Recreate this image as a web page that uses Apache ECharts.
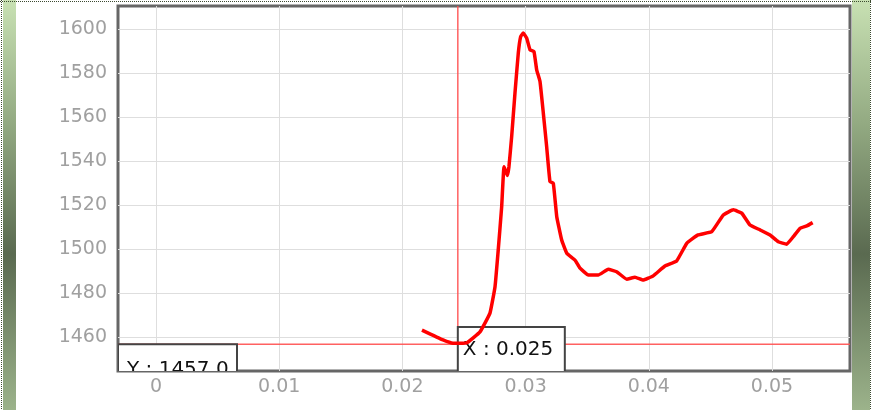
<!DOCTYPE html>
<html>
<head>
<meta charset="utf-8">
<script src="https://cdn.jsdelivr.net/npm/echarts@6/dist/echarts.min.js"></script>
<style>
  html, body { margin: 0; padding: 0; background: #fff; }
  #main { width: 872px; height: 410px; }
</style>
</head>
<body>
<div id="main"></div>
<script>
// time (x) and value (y) of the trace
const xValues = [
  0.02159, 0.02330, 0.02411, 0.02522, 0.02630, 0.02711, 0.02752, 0.02776, 0.02806, 0.02825,
  0.02851, 0.02865, 0.02887, 0.02914, 0.02941, 0.02960, 0.02981, 0.03009, 0.03036, 0.03068,
  0.03090, 0.03117, 0.03144, 0.03171, 0.03198, 0.03225, 0.03253, 0.03293, 0.03334, 0.03401,
  0.03442, 0.03509, 0.03590, 0.03671, 0.03739, 0.03821, 0.03888, 0.03955, 0.04036, 0.04131,
  0.04226, 0.04308, 0.04399, 0.04511, 0.04605, 0.04686, 0.04754, 0.04821, 0.04903, 0.04984,
  0.05051, 0.05119, 0.05173, 0.05227, 0.05282, 0.05330
];
const yValues = [
  1463.4, 1458.9, 1457.4, 1457.6, 1462.6, 1471.1, 1483.1, 1498.4, 1519.5, 1537.6,
  1533.6, 1537.6, 1551.3, 1571.1, 1589.3, 1596.7, 1598.3, 1596.0, 1590.7, 1589.9,
  1581.6, 1576.3, 1561.9, 1546.7, 1530.8, 1530.1, 1514.9, 1504.3, 1498.3, 1495.2,
  1491.5, 1488.4, 1488.4, 1491.0, 1489.9, 1486.5, 1487.4, 1486.1, 1488.0, 1492.5,
  1494.8, 1502.8, 1506.6, 1508.1, 1515.7, 1518.0, 1516.5, 1511.1, 1508.9, 1506.6,
  1503.5, 1502.4, 1505.8, 1509.6, 1510.7, 1512.2
];
const xTicks = [0, 0.01, 0.02, 0.03, 0.04, 0.05];
const yTicks = [1460, 1480, 1500, 1520, 1540, 1560, 1580, 1600];

// cursor readout
const crossX = 0.0245;
const crossY = 1457.0;
const crossXLabel = 'X : 0.025';
const crossYLabel = 'Y : 1457.0';

const FONT = '"DejaVu Sans", Verdana, sans-serif';
const chart = echarts.init(document.getElementById('main'));

function renderCursor(params, api) {
  const p = api.coord([api.value(0), api.value(1)]);
  const cs = params.coordSys;
  const bottom = cs.y + cs.height;
  const lineStyle = { stroke: '#ff5050', lineWidth: 1.5, opacity: 0.9 };
  const boxStyle = { fill: '#fff', stroke: '#444', lineWidth: 2 };
  const textStyle = (t, x, y) => ({
    text: t, x: x, y: y, fill: '#111',
    fontSize: 20, fontFamily: FONT, verticalAlign: 'top'
  });
  const xBoxTop = bottom - 44;
  return {
    type: 'group',
    children: [
      { type: 'line', shape: { x1: cs.x, y1: p[1], x2: cs.x + cs.width, y2: p[1] }, style: lineStyle },
      { type: 'line', shape: { x1: p[0], y1: cs.y, x2: p[0], y2: bottom }, style: lineStyle },
      { type: 'rect', shape: { x: cs.x, y: p[1], width: 119, height: 40 }, style: boxStyle },
      { type: 'text', style: textStyle(crossYLabel, cs.x + 9, p[1] + 16) },
      { type: 'rect', shape: { x: p[0], y: xBoxTop, width: 107, height: 60 }, style: boxStyle },
      { type: 'text', style: textStyle(crossXLabel, p[0] + 5, xBoxTop + 13) }
    ]
  };
}

const stripGradient = new echarts.graphic.LinearGradient(0, 0, 0, 1, [
  { offset: 0, color: '#c8e1b3' },
  { offset: 0.3, color: '#93aa82' },
  { offset: 0.62, color: '#5a6a50' },
  { offset: 1, color: '#9cb38b' }
]);

chart.setOption({
  backgroundColor: '#fff',
  animation: false,
  graphic: [
    { type: 'rect', left: 3, top: 0, shape: { width: 13, height: 410 }, style: { fill: stripGradient } },
    { type: 'rect', left: 852, top: 0, shape: { width: 18, height: 410 }, style: { fill: stripGradient } },
    { type: 'line', shape: { x1: 0, y1: 1.5, x2: 872, y2: 1.5 }, style: { stroke: '#3c4a30', lineWidth: 1, lineDash: [1, 1] } },
    { type: 'line', shape: { x1: 1.5, y1: 0, x2: 1.5, y2: 410 }, style: { stroke: '#3c4a30', lineWidth: 1, lineDash: [1, 1] } },
    { type: 'line', shape: { x1: 870.5, y1: 0, x2: 870.5, y2: 410 }, style: { stroke: '#3c4a30', lineWidth: 1, lineDash: [1, 1] } }
  ],
  grid: {
    left: 118, right: 22, top: 6, bottom: 39,
    show: true, borderColor: '#666', borderWidth: 3,
    backgroundColor: 'transparent'
  },
  xAxis: {
    type: 'value',
    min: -0.00308,
    max: 0.05633,
    axisLine: { show: false },
    axisTick: { show: false, customValues: xTicks },
    axisLabel: {
      customValues: xTicks, color: '#a0a0a0', fontSize: 19, fontFamily: FONT, margin: 7,
      formatter: (v) => String(v)
    },
    splitLine: { show: true, lineStyle: { color: '#dedede', width: 1 } }
  },
  yAxis: {
    type: 'value',
    min: 1444.8,
    max: 1610.6,
    axisLine: { show: false },
    axisTick: { show: false, customValues: yTicks },
    axisLabel: {
      customValues: yTicks, color: '#a0a0a0', fontSize: 19, fontFamily: FONT, margin: 11,
      formatter: (v) => String(v)
    },
    splitLine: { show: true, lineStyle: { color: '#dedede', width: 1 } }
  },
  series: [
    {
      type: 'custom',
      z: 1,
      clip: true,
      silent: true,
      renderItem: renderCursor,
      data: [[crossX, crossY]]
    },
    {
      type: 'line',
      z: 3,
      data: xValues.map((x, i) => [x, yValues[i]]),
      showSymbol: false,
      smooth: 0.1,
      lineStyle: { color: '#ff0000', width: 3.5 }
    }
  ]
});
</script>
</body>
</html>
